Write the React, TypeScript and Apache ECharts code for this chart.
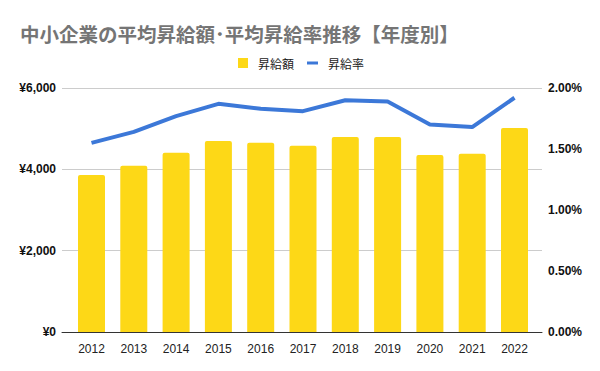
import React, { useEffect, useRef } from "react";
import * as echarts from "echarts";

const years = ["2012", "2013", "2014", "2015", "2016", "2017", "2018", "2019", "2020", "2021", "2022"];
const raiseAmount = [3860, 4089, 4409, 4696, 4655, 4581, 4795, 4795, 4352, 4384, 5016];
const raiseRate = [1.55, 1.64, 1.77, 1.87, 1.83, 1.81, 1.9, 1.89, 1.7, 1.68, 1.92];
const leftTicks = { min: 0, max: 6000, interval: 2000 };
const rightTicks = { min: 0, max: 2, interval: 0.5 };

const FONT = "'Liberation Sans', Arial, 'Noto Sans CJK JP', sans-serif";
const CJK = "'Noto Sans CJK JP', 'Liberation Sans', sans-serif";

export default function App() {
  const ref = useRef<HTMLDivElement>(null);
  useEffect(() => {
    const chart = echarts.init(ref.current!, null, { renderer: "svg" });
    chart.setOption({
      animation: false,
      backgroundColor: "#ffffff",
      title: {
        text: "中小企業の平均昇給額･平均昇給率推移【年度別】",
        left: 20,
        top: 22,
        padding: 0,
        textStyle: { fontFamily: CJK, fontSize: 19.5, lineHeight: 22, fontWeight: "bold", color: "#757575" },
      },
      legend: [
        {
          data: [{ name: "昇給額", icon: "rect" }],
          left: 238,
          top: 56,
          padding: 0,
          itemWidth: 10,
          itemHeight: 10,
          textStyle: { fontFamily: CJK, fontSize: 12, color: "#222", lineHeight: 14, padding: [0, 0, 0, 5] },
        },
        {
          data: [{ name: "昇給率", icon: "rect" }],
          left: 307,
          top: 56,
          padding: 0,
          itemWidth: 11,
          itemHeight: 3,
          textStyle: { fontFamily: CJK, fontSize: 12, color: "#222", lineHeight: 14, padding: [0, 0, 0, 5] },
        },
      ],
      grid: [
        { left: 62, right: 58, top: 88, bottom: 39 },
        { left: 70.35, right: 64.35, top: 88, bottom: 39 },
      ],
      xAxis: [
        {
          gridIndex: 0,
          type: "category",
          data: years,
          z: 5,
          axisLine: { show: true, lineStyle: { color: "#333", width: 1 } },
          axisTick: { show: false },
          axisLabel: { show: false },
          splitLine: { show: false },
        },
        {
          gridIndex: 1,
          type: "category",
          data: years,
          axisLine: { show: false },
          axisTick: { show: false },
          axisLabel: { fontFamily: FONT, fontSize: 12, color: "#222", margin: 11 },
          splitLine: { show: false },
        },
      ],
      yAxis: [
        {
          gridIndex: 0,
          type: "value",
          ...leftTicks,
          position: "left",
          axisLine: { show: false },
          axisTick: { show: false },
          axisLabel: {
            fontFamily: FONT,
            fontSize: 12,
            fontWeight: "bold",
            color: "#111",
            margin: 6,
            formatter: (v: number) => "¥" + v.toLocaleString("en-US"),
          },
          splitLine: { lineStyle: { color: "#cccccc", width: 1 } },
        },
        {
          gridIndex: 0,
          type: "value",
          ...rightTicks,
          position: "right",
          axisLine: { show: false },
          axisTick: { show: false },
          axisLabel: {
            fontFamily: FONT,
            fontSize: 12,
            fontWeight: "bold",
            color: "#111",
            margin: 6,
            formatter: (v: number) => v.toFixed(2) + "%",
          },
          splitLine: { show: false },
        },
        {
          gridIndex: 1,
          type: "value",
          ...leftTicks,
          show: false,
        },
        {
          gridIndex: 1,
          type: "value",
          ...rightTicks,
          show: false,
        },
      ],
      series: [
        {
          name: "昇給額",
          type: "bar",
          xAxisIndex: 1,
          yAxisIndex: 2,
          data: raiseAmount,
          barWidth: 27,
          itemStyle: { color: "#fdd817", borderRadius: [2, 2, 0, 0] },
        },
        {
          name: "昇給率",
          type: "line",
          xAxisIndex: 1,
          yAxisIndex: 3,
          data: raiseRate,
          showSymbol: false,
          symbol: "none",
          lineStyle: { color: "#3c78d8", width: 4 },
          itemStyle: { color: "#3c78d8" },
          z: 3,
        },
      ],
    });
    return () => chart.dispose();
  }, []);
  return <div ref={ref} style={{ position: "fixed", left: 0, top: 0, width: 600, height: 371 }} />;
}
